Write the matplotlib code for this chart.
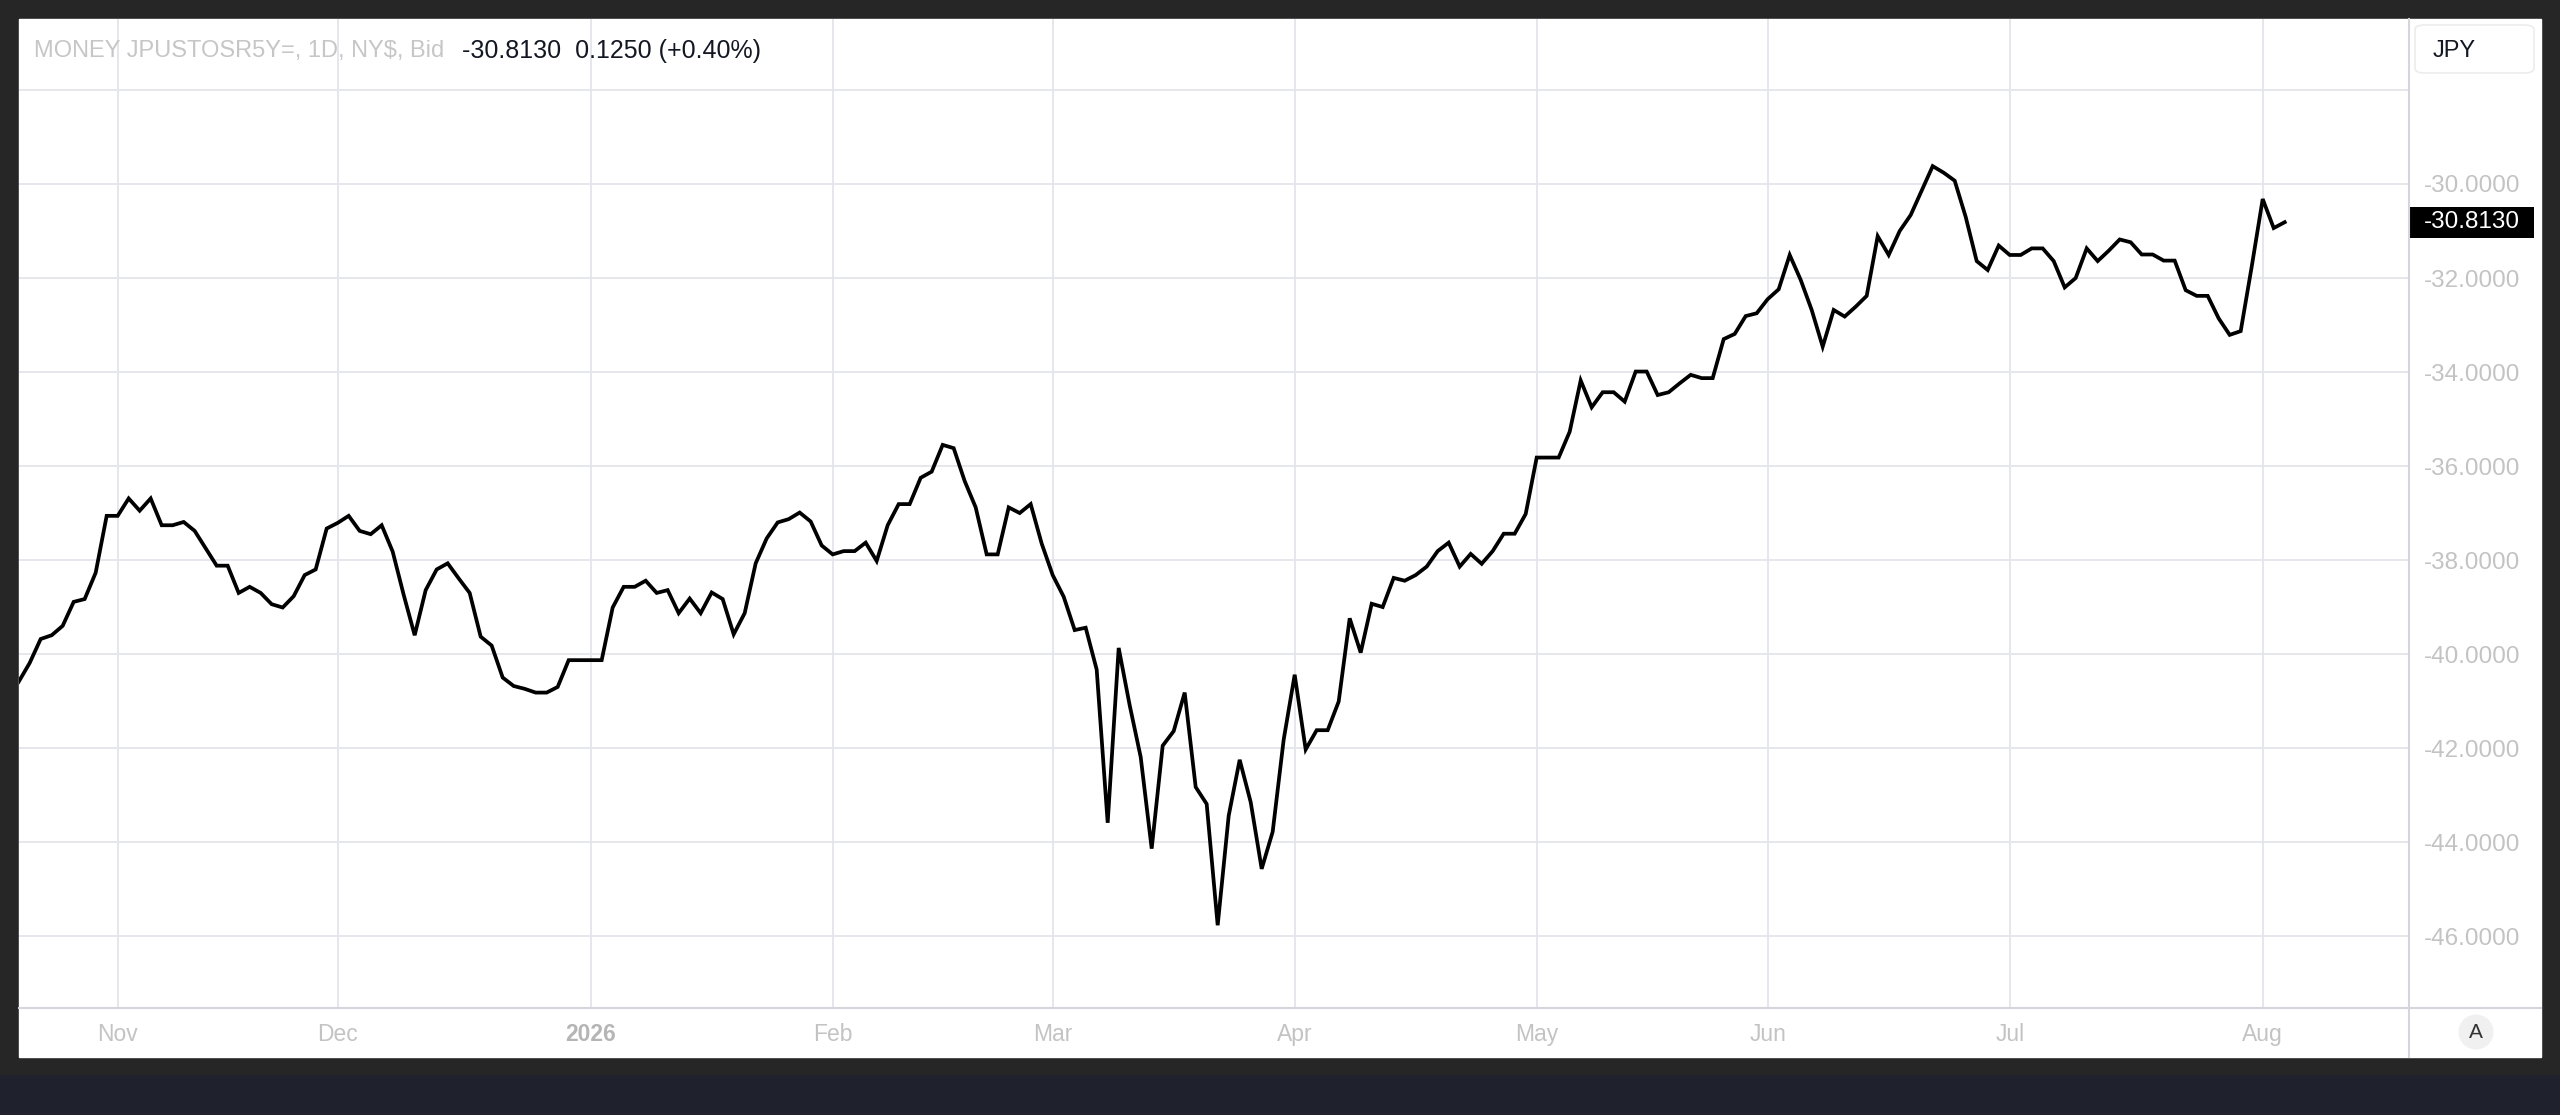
import numpy as np
import pandas as pd
import matplotlib
matplotlib.use("Agg")
import matplotlib.pyplot as plt
from matplotlib.patches import Rectangle, FancyBboxPatch, Ellipse
from matplotlib.lines import Line2D
from matplotlib.transforms import blended_transform_factory

plt.rcParams['font.family'] = ['Liberation Sans', 'DejaVu Sans']

# daily bid, JPUSTOSR5Y= (business days)
dates = pd.bdate_range("2025-10-21", "2026-08-05")
values = [
    -40.59, -40.19, -39.68, -39.60, -39.40, -38.89, -38.83, -38.27, -37.06,
    -37.06, -36.69, -36.95, -36.69, -37.26, -37.26, -37.19, -37.38, -37.75, -38.12,
    -38.12, -38.70, -38.57, -38.70, -38.94, -39.01, -38.77, -38.32, -38.20, -37.33,
    -37.21, -37.06, -37.38, -37.45, -37.26, -37.82, -38.74, -39.60, -38.64, -38.20,
    -38.07, -38.39, -38.70, -39.63, -39.82, -40.50, -40.68, -40.74, -40.82, -40.82,
    -40.70, -40.13, -40.13, -40.13, -40.13, -39.01, -38.57, -38.57, -38.44, -38.70,
    -38.64, -39.13, -38.82, -39.13, -38.69, -38.83, -39.58, -39.13, -38.07, -37.54,
    -37.20, -37.13, -36.99, -37.18, -37.69, -37.88, -37.81, -37.81, -37.63, -38.02,
    -37.26, -36.81, -36.81, -36.25, -36.12, -35.55, -35.62, -36.32, -36.88, -37.88,
    -37.88, -36.88, -37.00, -36.81, -37.65, -38.32, -38.78, -39.49, -39.44, -40.33,
    -43.59, -39.87, -41.09, -42.19, -44.14, -41.95, -41.64, -40.82, -42.83, -43.19,
    -45.77, -43.44, -42.25, -43.15, -44.57, -43.78, -41.82, -40.44, -42.03, -41.62,
    -41.62, -41.01, -39.24, -39.97, -38.93, -39.00, -38.38, -38.44, -38.32, -38.14,
    -37.81, -37.63, -38.14, -37.87, -38.08, -37.81, -37.44, -37.44, -37.02, -35.82,
    -35.82, -35.82, -35.27, -34.18, -34.75, -34.43, -34.43, -34.63, -33.99, -33.99,
    -34.49, -34.43, -34.24, -34.06, -34.13, -34.13, -33.30, -33.19, -32.81, -32.75,
    -32.45, -32.24, -31.51, -32.04, -32.68, -33.46, -32.68, -32.82, -32.61, -32.38,
    -31.11, -31.51, -31.00, -30.66, -30.14, -29.62, -29.76, -29.93, -30.70, -31.64,
    -31.83, -31.31, -31.51, -31.51, -31.37, -31.37, -31.64, -32.20, -32.00, -31.37,
    -31.64, -31.42, -31.18, -31.24, -31.50, -31.50, -31.63, -31.63, -32.26, -32.38,
    -32.38, -32.86, -33.21, -33.13, -31.76, -30.32, -30.938, -30.813,
]
price_ticks = [-46, -44, -42, -40, -38, -36, -34, -32, -30, -28]
symbol = "MONEY JPUSTOSR5Y=, 1D, NY$, Bid"
currency = "JPY"

last = values[-1]
chg = values[-1] - values[-2]
pct = chg / abs(values[-2]) * 100

W, H = 2560, 1115
def fx(px):
    return px / W
def fy(py):
    return 1 - py / H

grid_c = '#e3e5ea'
label_c = '#c3c3c3'
sep_c = '#d4d6dc'

fig = plt.figure(figsize=(25.6, 11.15), dpi=100, facecolor='#262626')
fig.patches.append(Rectangle((0, 0), 1, fy(1075), transform=fig.transFigure,
                             color='#1f222d', zorder=-3))
fig.patches.append(Rectangle((fx(19), fy(1057)), fx(2541) - fx(19), fy(19) - fy(1057),
                             transform=fig.transFigure, color='white', zorder=-2))

ax = fig.add_axes([fx(19), fy(1008), fx(2409) - fx(19), fy(19) - fy(1008)])
ax.set_zorder(1)
ax.set_facecolor('white')
x = np.arange(len(dates))
ax.plot(x, values, color='black', lw=2.7, solid_joinstyle='miter')

ax.set_xlim(0.03, 217.3)
ax.set_ylim(-47.53, -26.49)

# month gridlines / labels
month_pos = [i for i in range(1, len(dates)) if dates[i].month != dates[i - 1].month]
month_lab = [str(dates[i].year) if dates[i].month == 1 else dates[i].strftime('%b')
             for i in month_pos]
ax.set_xticks(month_pos)
ax.set_xticklabels(month_lab, fontsize=16.5, color=label_c)
for t, lab in zip(ax.get_xticklabels(), month_lab):
    if lab.isdigit():
        t.set_fontweight('bold')
        t.set_color('#b5b5b5')
ax.tick_params(axis='x', length=0, pad=11)

ax.yaxis.tick_right()
ax.set_yticks(price_ticks)
ax.set_yticklabels(['' if v == price_ticks[-1] else f"{v:.4f}"
                    for v in price_ticks], fontsize=17.5, color=label_c)
ax.tick_params(axis='y', length=0, pad=11)

ax.grid(True, color=grid_c, lw=1.3)
for s in ax.spines.values():
    s.set_visible(False)

# axis separators
fig.add_artist(Line2D([fx(2409), fx(2409)], [fy(19), fy(1057)], color=sep_c, lw=1.5, zorder=2))
fig.add_artist(Line2D([fx(19), fx(2541)], [fy(1008), fy(1008)], color=sep_c, lw=1.5, zorder=2))

# last price label
tr = blended_transform_factory(ax.transAxes, ax.transData)
ax.add_patch(Rectangle((1.0, last - 0.33), 0.0523, 0.66, transform=tr, fc='black',
                       ec='none', clip_on=False, zorder=5))
ax.text(1.0062, last, f"{last:.4f}", transform=tr, color='white', fontsize=17.5,
        va='center', ha='left', clip_on=False, zorder=6)

# header
fig.text(fx(34), fy(51), symbol, color='#c6c6c6', fontsize=17, va='center', zorder=3)
fig.text(fx(462), fy(51), f"{last:.4f}  {chg:.4f} ({pct:+.2f}%)", color='#131722',
         fontsize=18, va='center', zorder=3)

# currency box
fig.add_artist(FancyBboxPatch((fx(2415), fy(73)), fx(2534) - fx(2415), fy(25) - fy(73),
                              boxstyle='round,pad=0,rounding_size=0.004',
                              transform=fig.transFigure, fc='white', ec='#ececec', lw=1.2,
                              zorder=3))
fig.text(fx(2433), fy(51), currency, color='#131722', fontsize=17, va='center', zorder=4)

# auto-scale button
fig.add_artist(Ellipse((fx(2476), fy(1032)), 35 / W, 35 / H, transform=fig.transFigure,
                       fc='#f0f0f0', ec='none', zorder=3))
fig.text(fx(2476), fy(1032), "A", color='#333333', fontsize=15, ha='center', va='center',
         zorder=4)

fig.savefig("out.png", dpi=100, facecolor=fig.get_facecolor())
